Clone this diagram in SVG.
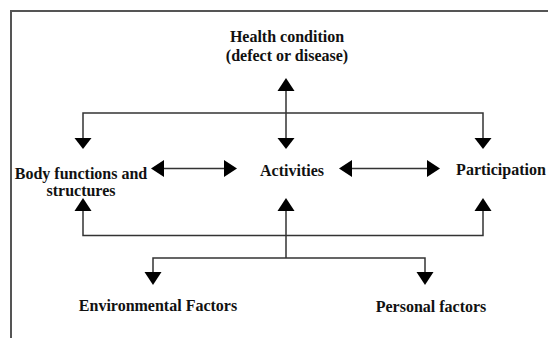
<svg xmlns="http://www.w3.org/2000/svg" width="548" height="338" viewBox="0 0 548 338">
<style>
.t{font-family:"Liberation Serif","Times New Roman",serif;font-weight:bold;font-size:16px;fill:#111;text-anchor:middle}
.ln{stroke:#333;stroke-width:1.5;fill:none}
.hd{fill:#000}
.fr{stroke:#555;stroke-width:2;fill:none}
</style>
<rect width="548" height="338" fill="#fff"/>
<path class="fr" d="M11,338 V11 H548"/>
<g id="health"><text class="t" x="287" y="42">Health condition</text><text class="t" x="287" y="61">(defect or disease)</text></g>
<g id="body"><text class="t" x="81" y="179">Body functions and</text><text class="t" x="81" y="196">structures</text></g>
<g id="activities"><text class="t" x="292" y="176">Activities</text></g>
<g id="participation"><text class="t" x="501" y="175">Participation</text></g>
<g id="environmental"><text class="t" x="158" y="311">Environmental Factors</text></g>
<g id="personal"><text class="t" x="431" y="312">Personal factors</text></g>
<g id="connectors">
<path class="ln" d="M286,88 V140 M83,140 V113 H483 V140"/>
<polygon class="hd" points="286,78 277.5,91 294.5,91"/>
<polygon class="hd" points="74.5,138 91.5,138 83,149"/>
<polygon class="hd" points="277.5,138 294.5,138 286,149"/>
<polygon class="hd" points="474.5,138 491.5,138 483,149"/>
<path class="ln" d="M160,168.5 H228 M348,168.5 H431"/>
<polygon class="hd" points="151,168.5 164,160 164,177"/>
<polygon class="hd" points="237,168.5 224,160 224,177"/>
<polygon class="hd" points="339,168.5 352,160 352,177"/>
<polygon class="hd" points="440,168.5 427,160 427,177"/>
<path class="ln" d="M83,208 V235.5 H483 V208 M286,208 V258 M153,274 V258 H425 V274"/>
<polygon class="hd" points="83,198 74.5,211 91.5,211"/>
<polygon class="hd" points="286,198 277.5,211 294.5,211"/>
<polygon class="hd" points="483,198 474.5,211 491.5,211"/>
<polygon class="hd" points="144.5,272 161.5,272 153,285"/>
<polygon class="hd" points="416.5,272 433.5,272 425,285"/>
</g>
</svg>
